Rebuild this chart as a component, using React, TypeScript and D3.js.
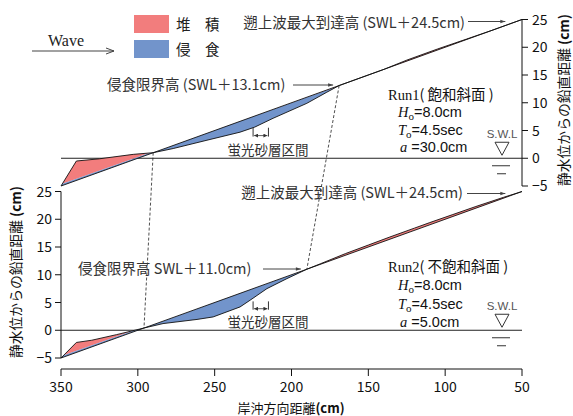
import React from "react";
import * as d3 from "d3";

// Cross-shore distance ticks (cm) and vertical ticks (cm from still water level)
const xTicks = [350, 300, 250, 200, 150, 100, 50];
const yTicks = [-5, 0, 5, 10, 15, 20, 25];

// Initial 1/10 slope (cross-shore distance, elevation)
const initialX = [350, 50];
const initialY = [-5, 25];

// Run1 (saturated slope) final profile
const run1X = [350, 340, 325, 303, 290, 277, 255, 233.5, 224, 212, 190, 177, 169, 140, 125, 105, 86, 70, 50];
const run1Y = [-5, -0.5, -0.1, 0.7, 1.0, 1.75, 3.25, 4.7, 5.6, 7.2, 9.9, 11.9, 13.1, 16.0, 17.68, 19.68, 21.48, 23.0, 25];

// Run2 (unsaturated slope) final profile
const run2X = [350, 340, 330, 314, 296, 283.6, 261.5, 251, 233.5, 227, 216, 203, 190, 181, 165, 150, 136, 120, 110, 95, 80, 62, 50];
const run2Y = [-5, -2.2, -1.8, -0.8, 0.4, 1.2, 1.95, 2.4, 4.2, 5.4, 7.5, 9.3, 11.0, 12.0, 13.8, 15.35, 16.8, 18.4, 19.4, 20.85, 22.3, 23.95, 25];

// Erosion limit / run-up heights (cm above SWL)
const run1Limit = 13.1;
const run2Limit = 11.0;
const runupHeight = 24.5;
// Fluorescent sand layer interval (cm)
const sandLayer = [225, 215];

const RED = "#f27d7d";
const BLUE = "#7294cb";
const SANS = "'Noto Sans CJK JP', 'Noto Sans', sans-serif";
const SERIF = "'Liberation Serif', 'DejaVu Serif', serif";
const HELV = "'Liberation Sans', Arial, sans-serif";

const x = d3.scaleLinear().domain([350, 50]).range([61, 522]);
const yTop = d3.scaleLinear().domain([-5, 25]).range([186, 19.5]);
const yBot = d3.scaleLinear().domain([-5, 25]).range([358, 191.5]);
const initial = d3.scaleLinear().domain(initialX).range(initialY);

type Pt = { x: number; y: number };
const toPts = (xs: number[], ys: number[]): Pt[] => xs.map((v, i) => ({ x: v, y: ys[i] }));

function Panel({ id, y, xs, ys }: { id: string; y: d3.ScaleLinear<number, number>; xs: number[]; ys: number[] }) {
  const pts = toPts(xs, ys);
  const area = d3
    .area<Pt>()
    .x((d) => x(d.x))
    .y0((d) => y(initial(d.x)))
    .y1((d) => y(d.y));
  const line = d3
    .line<Pt>()
    .x((d) => x(d.x))
    .y((d) => y(d.y));
  const x0 = x(initialX[0]);
  const x1 = x(initialX[1]);
  const ya = y(initialY[0]);
  const yb = y(initialY[1]);
  const above = `M${x0 - 5},${ya} L${x1 + 5},${yb} L${x1 + 5},${yb - 300} L${x0 - 5},${ya - 300} Z`;
  const below = `M${x0 - 5},${ya} L${x1 + 5},${yb} L${x1 + 5},${yb + 300} L${x0 - 5},${ya + 300} Z`;
  const d = area(pts) || "";
  return (
    <g>
      <defs>
        <clipPath id={`${id}-above`}>
          <path d={above} />
        </clipPath>
        <clipPath id={`${id}-below`}>
          <path d={below} />
        </clipPath>
      </defs>
      <line x1={x(350)} x2={x(50)} y1={y(0)} y2={y(0)} stroke="#222" strokeWidth={1} />
      <path d={d} fill={RED} clipPath={`url(#${id}-above)`} />
      <path d={d} fill={BLUE} clipPath={`url(#${id}-below)`} />
      <line x1={x(initialX[0])} y1={y(initialY[0])} x2={x(initialX[1])} y2={y(initialY[1])} stroke="#111" strokeWidth={0.9} />
      <path d={line(pts) || ""} fill="none" stroke="#111" strokeWidth={0.9} />
    </g>
  );
}

function SandBracket({ y, top, bottom, cx, ty }: { y: d3.ScaleLinear<number, number>; top: number; bottom: number; cx: number; ty: number }) {
  const xa = x(sandLayer[0]);
  const xb = x(sandLayer[1]);
  const yt = y(top);
  const yb = y(bottom);
  return (
    <g>
      <path d={`M${xa},${yt} L${xa},${yb} M${xb},${yt} L${xb},${yb}`} stroke="#333" strokeWidth={1} fill="none" />
      <line x1={xa + 1} x2={xb - 1} y1={yb - 1} y2={yb - 1} stroke="#333" strokeWidth={0.8} markerStart="url(#tinyL)" markerEnd="url(#tinyR)" />
      <text x={cx} y={ty} fontSize={13.5} fill="#333" textAnchor="middle" fontFamily={SANS}>
        蛍光砂層区間
      </text>
    </g>
  );
}

function SwlMark({ cx, y0 }: { cx: number; y0: number }) {
  return (
    <g>
      <text x={cx} y={y0 - 20} fontSize={11.5} fill="#555" textAnchor="middle" fontFamily={HELV}>
        S.W.L
      </text>
      <path d={`M${cx - 7},${y0 - 16} L${cx + 7},${y0 - 16} L${cx},${y0 - 3} Z`} fill="none" stroke="#333" strokeWidth={1} />
      <line x1={cx - 10} x2={cx + 8} y1={y0 + 7.5} y2={y0 + 7.5} stroke="#333" strokeWidth={1} />
      <line x1={cx - 5} x2={cx + 4} y1={y0 + 15.5} y2={y0 + 15.5} stroke="#333" strokeWidth={1} />
    </g>
  );
}

function RunText({ x0, y0, step, title, a }: { x0: number; y0: number; step: number; title: React.ReactNode; a: string }) {
  return (
    <g fill="#111">
      <text x={x0} y={y0} fontSize={14.5}>
        {title}
      </text>
      <text x={x0 + 10} y={y0 + step} fontSize={14.5}>
        <tspan fontFamily={SERIF} fontStyle="italic">H</tspan>
        <tspan fontFamily={SERIF} fontSize={11} dy={3}>o</tspan>
        <tspan fontFamily={HELV} dy={-3}>=8.0cm</tspan>
      </text>
      <text x={x0 + 10} y={y0 + step * 2} fontSize={14.5}>
        <tspan fontFamily={SERIF} fontStyle="italic">T</tspan>
        <tspan fontFamily={SERIF} fontSize={11} dy={3}>o</tspan>
        <tspan fontFamily={HELV} dy={-3}>=4.5sec</tspan>
      </text>
      <text x={x0 + 12} y={y0 + step * 3} fontSize={14.5}>
        <tspan fontFamily={SERIF} fontStyle="italic">a</tspan>
        <tspan fontFamily={HELV}> =</tspan>
        <tspan fontFamily={HELV}>{a}</tspan>
      </text>
    </g>
  );
}

export default function App() {
  const tickFont = { fontFamily: SANS, fontSize: 14, fill: "#111" } as const;
  const axisY = 369;
  return (
    <svg width={573} height={416} style={{ position: "absolute", left: 0, top: 0, background: "#fff" }}>
      <defs>
        <marker id="arrowHead" viewBox="0 0 10 10" refX={10} refY={5} markerWidth={7} markerHeight={5} orient="auto" markerUnits="userSpaceOnUse">
          <path d="M0,1.5 L10,5 L0,8.5 Z" fill="#444" />
        </marker>
        <marker id="tinyR" viewBox="0 0 10 10" refX={10} refY={5} markerWidth={4} markerHeight={4} orient="auto" markerUnits="userSpaceOnUse">
          <path d="M0,0 L10,5 L0,10 Z" fill="#333" />
        </marker>
        <marker id="tinyL" viewBox="0 0 10 10" refX={0} refY={5} markerWidth={4} markerHeight={4} orient="auto" markerUnits="userSpaceOnUse">
          <path d="M10,0 L0,5 L10,10 Z" fill="#333" />
        </marker>
      </defs>

      {/* legend */}
      <rect x={134} y={15} width={35} height={18} fill={RED} />
      <rect x={134} y={40} width={35} height={18} fill={BLUE} />
      <text x={176} y={29.5} fontSize={14.5} fontFamily={SANS} fill="#222">堆　積</text>
      <text x={176} y={54.5} fontSize={14.5} fontFamily={SANS} fill="#222">侵　食</text>

      {/* wave direction */}
      <text x={48} y={46} fontSize={16} fontFamily={SERIF} fill="#222">Wave</text>
      <line x1={32} x2={114} y1={51} y2={51} stroke="#444" strokeWidth={1.2} />
      <path d="M106,48 L114,51 L106,54" fill="none" stroke="#444" strokeWidth={1} />

      <Panel id="run1" y={yTop} xs={run1X} ys={run1Y} />
      <Panel id="run2" y={yBot} xs={run2X} ys={run2Y} />

      {/* dashed guides linking the two runs */}
      <line x1={x(run1X[4])} y1={yTop(run1Y[4])} x2={x(run2X[4])} y2={yBot(run2Y[4])} stroke="#222" strokeWidth={0.8} strokeDasharray="3,2" />
      <line x1={x(300 - run1Limit * 10)} y1={yTop(run1Limit)} x2={x(300 - run2Limit * 10)} y2={yBot(run2Limit)} stroke="#222" strokeWidth={0.8} strokeDasharray="3,2" />

      {/* right axis (Run1) */}
      <line x1={x(50)} x2={x(50)} y1={yTop(25)} y2={yTop(-5)} stroke="#111" strokeWidth={1} />
      {yTicks.map((t) => (
        <g key={`r${t}`}>
          <line x1={x(50)} x2={x(50) + 6} y1={yTop(t)} y2={yTop(t)} stroke="#111" strokeWidth={1} />
          <text x={x(50) + 10} y={yTop(t) + 5} {...tickFont}>{t === -5 ? "−5" : t}</text>
        </g>
      ))}
      <text transform={`translate(569,100) rotate(-90)`} textAnchor="middle" fontSize={13.8} fontFamily={SANS} fill="#111">
        静水位からの鉛直距離 <tspan fontWeight="bold">(cm)</tspan>
      </text>

      {/* left axis (Run2) */}
      <line x1={x(350)} x2={x(350)} y1={yBot(25)} y2={yBot(-5)} stroke="#111" strokeWidth={1} />
      {yTicks.map((t) => (
        <g key={`l${t}`}>
          <line x1={x(350) - 6} x2={x(350)} y1={yBot(t)} y2={yBot(t)} stroke="#111" strokeWidth={1} />
          <text x={x(350) - 9} y={yBot(t) + 5} textAnchor="end" {...tickFont}>{t === -5 ? "−5" : t}</text>
        </g>
      ))}
      <text transform={`translate(21,272) rotate(-90)`} textAnchor="middle" fontSize={13.8} fontFamily={SANS} fill="#111">
        静水位からの鉛直距離 <tspan fontWeight="bold">(cm)</tspan>
      </text>

      {/* bottom axis */}
      <line x1={x(350)} x2={x(50)} y1={axisY} y2={axisY} stroke="#111" strokeWidth={1} />
      {xTicks.map((t) => (
        <g key={`b${t}`}>
          <line x1={x(t)} x2={x(t)} y1={axisY} y2={axisY + 7} stroke="#111" strokeWidth={1} />
          <text x={x(t)} y={axisY + 23} textAnchor="middle" {...tickFont}>{t}</text>
        </g>
      ))}
      <text x={291} y={413} textAnchor="middle" fontSize={13} fontFamily={SANS} fill="#111">
        岸沖方向距離<tspan fontWeight="bold">(cm)</tspan>
      </text>

      {/* Run1 annotations */}
      <text x={465} y={28} textAnchor="end" fontSize={14.5} fontFamily={SANS} fill="#333">
        遡上波最大到達高 (SWL＋{runupHeight}cm)
      </text>
      <line x1={468} x2={x(300 - runupHeight * 10) - 9} y1={21.5} y2={21.5} stroke="#444" strokeWidth={1} markerEnd="url(#arrowHead)" />
      <text x={107} y={90} fontSize={14.5} fontFamily={SANS} fill="#333">
        侵食限界高 (SWL＋{run1Limit.toFixed(1)}cm)
      </text>
      <line x1={293} x2={x(300 - run1Limit * 10) - 6} y1={85} y2={85} stroke="#444" strokeWidth={1} markerEnd="url(#arrowHead)" />
      <SandBracket y={yTop} top={5.5} bottom={3.9} cx={268} ty={155} />
      <RunText
        x0={388}
        y0={100}
        step={17.3}
        a="30.0cm"
        title={
          <>
            <tspan fontFamily={SERIF}>Run1</tspan>
            <tspan fontFamily={SANS}>( 飽和斜面 )</tspan>
          </>
        }
      />
      <SwlMark cx={502} y0={yTop(0)} />

      {/* Run2 annotations */}
      <text x={463} y={198} textAnchor="end" fontSize={14.5} fontFamily={SANS} fill="#333">
        遡上波最大到達高 (SWL＋{runupHeight}cm)
      </text>
      <line x1={467} x2={x(300 - runupHeight * 10) - 9} y1={193.5} y2={193.5} stroke="#444" strokeWidth={1} markerEnd="url(#arrowHead)" />
      <text x={78} y={274} fontSize={14.5} fontFamily={SANS} fill="#333">
        侵食限界高 SWL＋{run2Limit.toFixed(1)}cm)
      </text>
      <line x1={263} x2={x(300 - run2Limit * 10) - 6} y1={269} y2={269} stroke="#444" strokeWidth={1} markerEnd="url(#arrowHead)" />
      <SandBracket y={yBot} top={5.2} bottom={3.7} cx={268} ty={327} />
      <RunText
        x0={388}
        y0={272}
        step={18.3}
        a="5.0cm"
        title={
          <>
            <tspan fontFamily={SERIF}>Run2</tspan>
            <tspan fontFamily={SANS}>( 不飽和斜面 )</tspan>
          </>
        }
      />
      <SwlMark cx={502} y0={yBot(0)} />
    </svg>
  );
}
